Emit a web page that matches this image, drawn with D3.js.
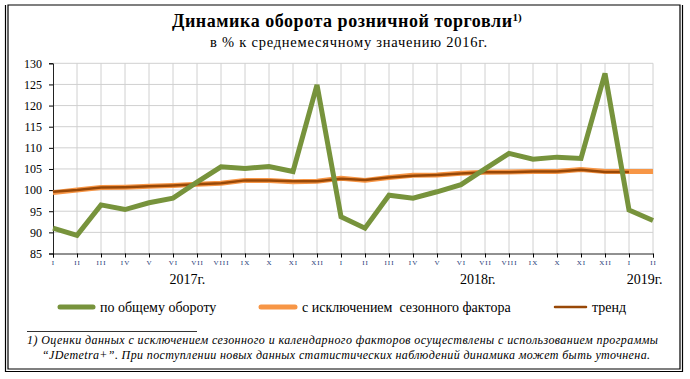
<!DOCTYPE html>
<html><head><meta charset="utf-8">
<script src="https://cdn.jsdelivr.net/npm/d3@7"></script>
<style>body{margin:0;background:#fff}svg{display:block}</style>
</head><body><svg id="c" width="690" height="379"></svg>
<script>
const months = ["I","II","III","IV","V","VI","VII","VIII","IX","X","XI","XII",
                "I","II","III","IV","V","VI","VII","VIII","IX","X","XI","XII",
                "I","II"];
const years = [{label:"2017г.", at:5.6},{label:"2018г.", at:17.7},{label:"2019г.", at:24.65}];
const total = [91.0,89.3,96.5,95.4,97.0,98.1,101.9,105.5,105.1,105.6,104.4,124.9,
               93.7,91.0,98.8,98.1,99.6,101.3,105.0,108.7,107.3,107.8,107.5,127.6,
               95.3,92.8];
const seasonal = [99.4,100.0,100.6,100.7,100.9,101.1,101.4,101.6,102.3,102.3,102.0,102.1,
                  102.8,102.3,103.0,103.5,103.6,104.0,104.2,104.3,104.4,104.4,104.9,104.4,
                  104.4,104.4];
const trend = [99.6,100.0,100.6,100.7,100.9,101.1,101.4,101.6,102.3,102.3,102.1,102.1,
               102.7,102.4,103.0,103.4,103.6,103.9,104.2,104.2,104.4,104.4,104.8,104.3,
               104.3];
const yTicks = [85,90,95,100,105,110,115,120,125,130];
const legendLabels = ["по общему оборот\u0443","с исключением  сезонного фактора","тренд"];

const svg = d3.select("#c");
const serif = "'Liberation Serif','Times New Roman',serif";

// frame
svg.append("path").attr("d","M8,5H680V369H8Z").attr("fill","none").attr("stroke","#000").attr("stroke-width",1.2);
svg.append("path").attr("d","M5.5,5V371.5H682.5V5").attr("fill","none").attr("stroke","#000").attr("stroke-width",1.2);

// title
const t = svg.append("text").attr("x",172).attr("y",27)
  .attr("font-family",serif).attr("font-size",18).attr("font-weight","bold").attr("fill","#000");
t.append("tspan").attr("textLength",340).attr("lengthAdjust","spacing").text("Динамика  оборота розничной  торговли");
t.append("tspan").attr("font-size",11).attr("dy",-6).text("1)");
svg.append("text").attr("x",210).attr("y",47)
  .attr("font-family",serif).attr("font-size",14.5).attr("fill","#000")
  .attr("textLength",277).attr("lengthAdjust","spacing")
  .text("в % к среднемесячному значению 2016г.");

const L=53, R=653, T=63.3, B=253.5;
const x = d3.scaleLinear().domain([0,25]).range([L,R]);
const y = d3.scaleLinear().domain([85,130]).range([B,T]);

const g = svg.append("g");
// grid
g.selectAll(".hg").data(yTicks.slice(1)).join("line")
  .attr("x1",L).attr("x2",R).attr("y1",d=>y(d)).attr("y2",d=>y(d))
  .attr("stroke","#d0d0d0").attr("stroke-width",1);
g.selectAll(".vg").data(d3.range(1,26)).join("line")
  .attr("x1",d=>x(d)).attr("x2",d=>x(d)).attr("y1",T).attr("y2",B)
  .attr("stroke","#d0d0d0").attr("stroke-width",1);

// axes
const ya = g.append("g").attr("transform",`translate(${L},0)`)
  .call(d3.axisLeft(y).tickValues(yTicks).tickSize(4).tickPadding(7));
ya.select(".domain").attr("stroke","#222");
ya.selectAll("text").attr("font-family",serif).attr("font-size",12).attr("fill","#000");
const xa = g.append("g").attr("transform",`translate(0,${B})`)
  .call(d3.axisBottom(x).tickValues(d3.range(26)).tickFormat(i=>months[i]).tickSize(4).tickPadding(3));
xa.select(".domain").attr("stroke","#222");
xa.selectAll("text").attr("font-family",serif).attr("font-size",7).attr("fill","#1f3a78").attr("letter-spacing",1);

svg.selectAll(".yr").data(years).join("text")
  .attr("x",d=>x(d.at)).attr("y",283.5).attr("text-anchor","middle")
  .attr("font-family",serif).attr("font-size",14).attr("fill","#000").text(d=>d.label);

// series
const line = d3.line().x((d,i)=>x(i)).y(d=>y(d));
g.append("path").datum(seasonal).attr("d",line).attr("fill","none")
  .attr("stroke","#F79646").attr("stroke-width",5).attr("stroke-linejoin","round");
g.append("path").datum(trend).attr("d",line).attr("fill","none")
  .attr("stroke","#984807").attr("stroke-width",2.5).attr("stroke-linejoin","round");
g.append("path").datum(total).attr("d",line).attr("fill","none")
  .attr("stroke","#77933C").attr("stroke-width",5).attr("stroke-linejoin","miter");

// legend
const leg = [{x1:60,x2:93,tx:100,c:"#77933C",w:5},{x1:261,x2:295,tx:302,c:"#F79646",w:5},{x1:555,x2:586,tx:592,c:"#984807",w:2.5}];
leg.forEach((d,i)=>{
  svg.append("line").attr("x1",d.x1).attr("x2",d.x2).attr("y1",307).attr("y2",307)
    .attr("stroke",d.c).attr("stroke-width",d.w).attr("stroke-linecap","round");
  svg.append("text").attr("x",d.tx).attr("y",312).attr("font-family",serif).attr("font-size",14)
    .attr("fill","#000").attr("xml:space","preserve").style("white-space","pre").text(legendLabels[i]);
});

// footnote
svg.append("line").attr("x1",27).attr("x2",197).attr("y1",331.5).attr("y2",331.5).attr("stroke","#000").attr("stroke-width",0.8);
svg.append("text").attr("x",27).attr("y",344).attr("font-family",serif).attr("font-size",12).attr("font-style","italic")
  .attr("textLength",631).attr("lengthAdjust","spacing")
  .text("1) Оценки данных с исключением сезонного и календарного факторов осуществлены с использованием  программы");
svg.append("text").attr("x",42).attr("y",359).attr("font-family",serif).attr("font-size",12).attr("font-style","italic")
  .attr("textLength",608).attr("lengthAdjust","spacing")
  .text("“JDemetra+”. При поступлении новых данных статистических наблюдений динамика может быть уточнена.");
</script></body></html>
